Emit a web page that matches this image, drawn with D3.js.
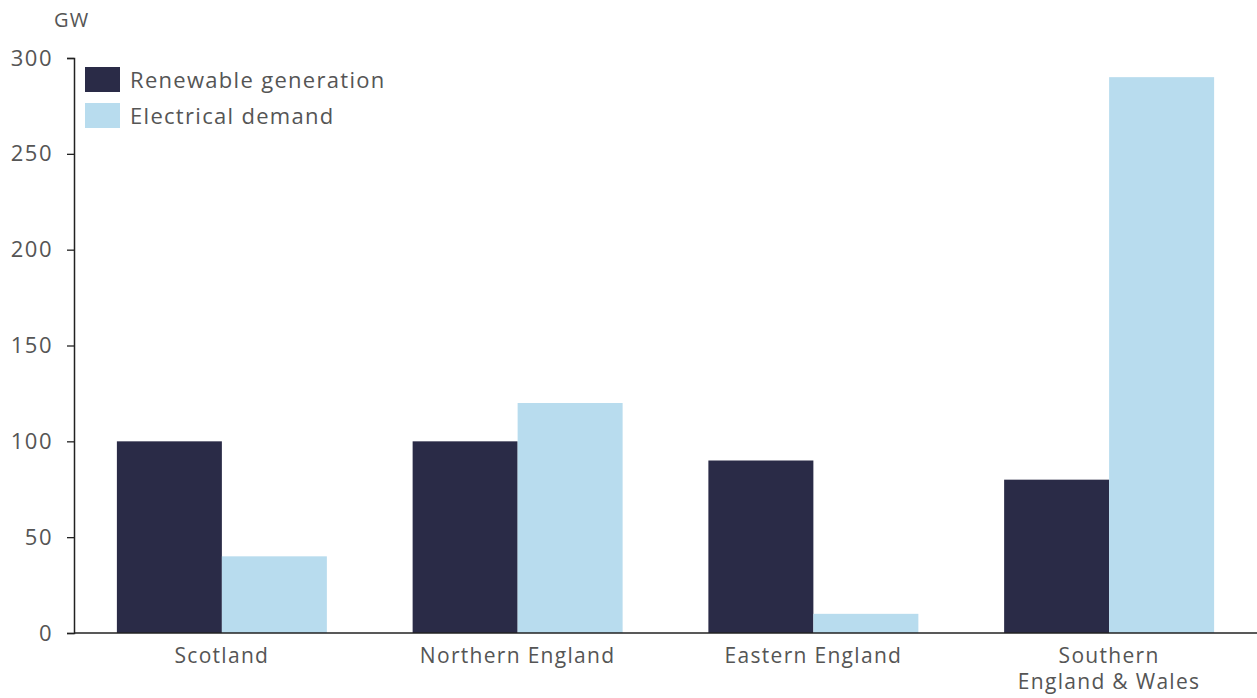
<!DOCTYPE html>
<html>
<head>
<meta charset="utf-8">
<script src="https://cdn.jsdelivr.net/npm/d3@7"></script>
<style>
  html, body { margin: 0; padding: 0; background: #fff; }
  svg text { font-family: "Open Sans", Lato, sans-serif; fill: #555; letter-spacing: 1.3px; }
</style>
</head>
<body>
<svg id="chart" width="1257" height="698"></svg>
<script>
const regions = ["Scotland", "Northern England", "Eastern England", "Southern\nEngland & Wales"];
const seriesNames = ["Renewable generation", "Electrical demand"];
const renewableGeneration = [100, 100, 90, 80];
const electricalDemand = [40, 120, 10, 290];
const yTicks = [0, 50, 100, 150, 200, 250, 300];
const colors = ["#2a2b47", "#b8dcee"];

const svg = d3.select("#chart");
const plotLeft = 74, plotRight = 1257, plotTop = 58, plotBottom = 633;

const x0 = d3.scaleBand().domain(regions).range([plotLeft, plotRight])
  .paddingInner(0.29).paddingOuter(0.145);
const x1 = d3.scaleBand().domain(seriesNames).range([0, x0.bandwidth()]);
const y = d3.scaleLinear().domain([0, 300]).range([plotBottom, plotTop]);

const series = [renewableGeneration, electricalDemand];

// bars
regions.forEach((r, i) => {
  seriesNames.forEach((s, j) => {
    svg.append("rect")
      .attr("x", x0(r) + x1(s))
      .attr("y", y(series[j][i]))
      .attr("width", x1.bandwidth())
      .attr("height", y(0) - y(series[j][i]))
      .attr("fill", colors[j]);
  });
});

// y axis
const yAxis = svg.append("g").attr("transform", `translate(${plotLeft},0)`)
  .call(d3.axisLeft(y).tickValues(yTicks).tickSize(7).tickPadding(14));
yAxis.select(".domain").attr("stroke", "#222").attr("stroke-width", 1.5);
yAxis.selectAll(".tick line").attr("stroke", "#222").attr("stroke-width", 1.3);
yAxis.selectAll(".tick text").attr("font-size", 22).style("fill", "#555")
  .style("font-family", '"Open Sans", Lato, sans-serif')
  .style("letter-spacing", "1.5px");

// x axis baseline
svg.append("line").attr("x1", plotLeft).attr("x2", plotRight)
  .attr("y1", plotBottom).attr("y2", plotBottom)
  .attr("stroke", "#222").attr("stroke-width", 1.5);

// category labels
regions.forEach(r => {
  const lines = r.split("\n");
  const cx = x0(r) + x0.bandwidth() / 2;
  lines.forEach((ln, k) => {
    svg.append("text")
      .attr("x", cx)
      .attr("y", 663 + k * 26)
      .attr("text-anchor", "middle")
      .attr("font-size", 21)
      .text(ln);
  });
});

// unit label
svg.append("text").attr("x", 54).attr("y", 27).attr("font-size", 20).text("GW");

// legend
seriesNames.forEach((s, j) => {
  svg.append("rect").attr("x", 85).attr("y", 67 + j * 36)
    .attr("width", 35).attr("height", 25).attr("fill", colors[j]);
  svg.append("text").attr("x", 130).attr("y", 88 + j * 36)
    .attr("font-size", 22).text(s);
});
</script>
</body>
</html>
